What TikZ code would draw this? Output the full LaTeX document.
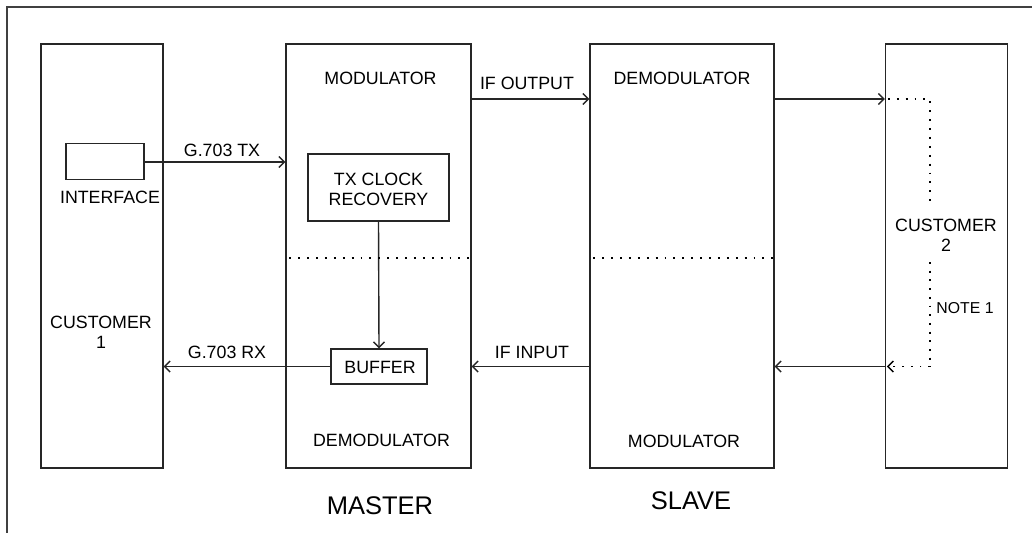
\documentclass[tikz,border=0pt]{standalone}
\usepackage{fontspec}
\setmainfont{Liberation Sans}
\usetikzlibrary{arrows.meta}
\begin{document}
\begin{tikzpicture}[x=1pt,y=-1pt,
  box/.style={draw=black!85, line width=1.3pt, inner sep=0pt},
  lbl/.style={font=\fontsize{17.8}{20}\selectfont, inner sep=0pt, align=center},
  big/.style={font=\fontsize{25.5}{28}\selectfont, inner sep=0pt},
  arr/.style={line width=1.4pt, draw=black!85, -{Straight Barb[length=5.5pt,width=11pt,line width=1.4pt]}},
  dotline/.style={line width=1.9pt, dash pattern=on 1.9pt off 7pt},
  dotarr/.style={line width=1.9pt, dash pattern=on 1.9pt off 6.8pt, -{Straight Barb[length=5.5pt,width=11pt,line width=1.4pt]}}
]
\useasboundingbox (0,0) rectangle (1032,533);
% frame (top and left edges)
\draw[line width=1.2pt, black!75] (1032,7) -- (7,7) -- (7,533);

% main boxes
\node[box, minimum width=122pt, minimum height=424pt] (c1) at (102,256) {};
\node[box, minimum width=185pt, minimum height=424pt] (master) at (378.5,256) {};
\node[box, minimum width=184pt, minimum height=424pt] (slave) at (682,256) {};
\node[box, minimum width=122pt, minimum height=424pt] (c2) at (946.5,256) {};

% inner boxes
\node[box, minimum width=78pt, minimum height=36pt] (iface) at (105,161.5) {};
\node[box, minimum width=141pt, minimum height=67pt] (clk) at (378.5,187.5) {};
\node[box, minimum width=96pt, minimum height=35pt] (buf) at (379,366.5) {};

% texts
\node[lbl] (tiface) at (110,197) {INTERFACE};
\node[lbl] (tc1) at (101,332) {CUSTOMER\\1};
\node[lbl] (tclk) at (378.5,189) {TX CLOCK\\RECOVERY};
\node[lbl] (tbuf) at (380,367.5) {BUFFER};
\node[lbl] (tmmod) at (380.5,78) {MODULATOR};
\node[lbl] (tmdem) at (381.5,440.5) {DEMODULATOR};
\node[lbl] (tsdem) at (682,78) {DEMODULATOR};
\node[lbl] (tsmod) at (684,441) {MODULATOR};
\node[lbl] (tc2) at (946,235) {CUSTOMER\\2};
\node[font=\fontsize{15.8}{18}\selectfont, inner sep=0pt] (tnote) at (965,308) {NOTE 1};
\node[big] (tmaster) at (380,506) {MASTER};
\node[big] (tslave) at (691,501) {SLAVE};

% arrow labels
\node[lbl] (ltx) at (222,150) {G.703 TX};
\node[lbl] (lrx) at (227,352) {G.703 RX};
\node[lbl] (lifo) at (527,83) {IF OUTPUT};
\node[lbl] (lifi) at (532,352) {IF INPUT};

% helper coordinates
\coordinate (yo) at (0,99);
\coordinate (yi) at (0,366.5);
\coordinate (ytx) at (0,162);
\coordinate (ydot) at (0,258);
\coordinate (dtop) at (930,99);
\coordinate (dmid1) at (930,204);
\coordinate (dmid2) at (930,262);
\coordinate (dbot) at (930,366.5);

% connectors
\draw[arr] (iface.east |- ytx) -- (master.west |- ytx);
\draw[arr] (buf.west) -- (c1.east |- buf.west);
\draw[arr] (master.east |- yo) -- (slave.west |- yo);
\draw[arr] (slave.west |- yi) -- (master.east |- yi);
\draw[arr] (slave.east |- yo) -- (c2.west |- yo);
\draw[arr] (c2.west |- yi) -- (slave.east |- yi);
\draw[arr] (clk.south) -- (buf.north);

% dotted separators
\draw[dotline] ([xshift=4pt]master.west |- ydot) -- (master.east |- ydot);
\draw[dotline] ([xshift=4pt]slave.west |- ydot) -- (slave.east |- ydot);

% dotted loop inside customer 2
\draw[dotline] ([xshift=3pt]c2.west |- dtop) -- (dtop) -- (dmid1);
\draw[dotarr] (dmid2) -- (dbot) -- ([xshift=2pt]c2.west |- dbot);
\end{tikzpicture}
\end{document}
